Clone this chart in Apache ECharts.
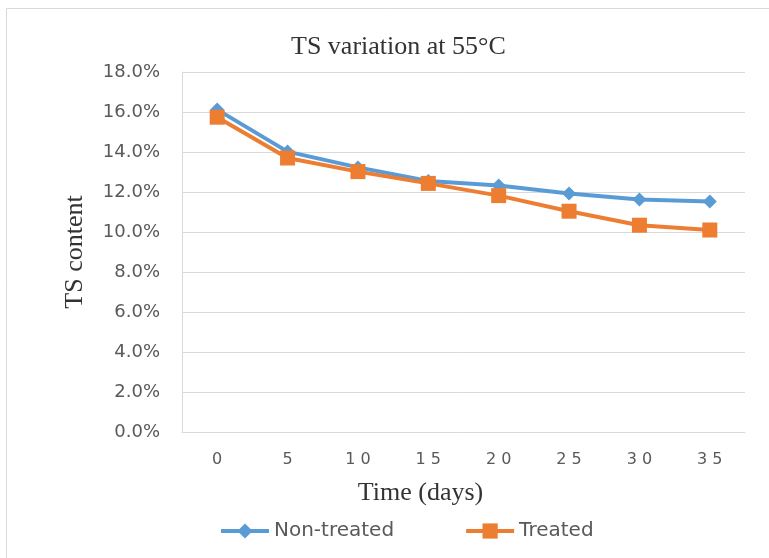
<!DOCTYPE html>
<html>
<head>
<meta charset="utf-8">
<script src="https://cdn.jsdelivr.net/npm/echarts@6/dist/echarts.min.js"></script>
<style>html,body{margin:0;padding:0;background:#fff}#c{width:769px;height:558px}</style>
</head>
<body>
<div id="c"></div>
<script>
var categories = ["0","5","10","15","20","25","30","35"];
var nonTreated = [0.1612, 0.1402, 0.1323, 0.1255, 0.1233, 0.1193, 0.1162, 0.1152];
var treated = [0.1574, 0.1370, 0.1302, 0.1243, 0.1182, 0.1104, 0.1034, 0.1010];
var yTicks = {min: 0, max: 0.18, interval: 0.02};

var chart = echarts.init(document.getElementById('c'));
chart.setOption({
  animation: false,
  backgroundColor: '#fff',
  graphic: [{type:'rect', shape:{x:6.5,y:8.5,width:800,height:600}, style:{fill:'none', stroke:'#d9d9d9', lineWidth:1}, z:-1}],
  title: {text:'TS variation at 55°C', left:286, top:29, textStyle:{fontFamily:'Liberation Serif', fontSize:26, fontWeight:'normal', color:'#333'}},
  grid: {left:182, right:24, top:72, bottom:126},
  legend: {top:516, left:214, itemWidth:48, itemHeight:19, itemGap:70,
    lineStyle:{width:4},
    textStyle:{fontFamily:'DejaVu Sans', fontSize:20, color:'#595959'},
    data:['Non-treated','Treated']},
  xAxis: {type:'category', data:categories, boundaryGap:true,
    name:'Time (days)', nameLocation:'middle', nameGap:48,
    nameTextStyle:{fontFamily:'Liberation Serif', fontSize:26, color:'#333', padding:[0,86,0,0]},
    axisLine:{lineStyle:{color:'#d9d9d9'}}, axisTick:{show:false},
    axisLabel:{margin:20, fontFamily:'DejaVu Sans', fontSize:16, color:'#595959', formatter:function(v){return v.split('').join(' ');}}},
  yAxis: {type:'value', min:yTicks.min, max:yTicks.max, interval:yTicks.interval,
    name:'TS content', nameLocation:'middle', nameGap:94,
    nameTextStyle:{fontFamily:'Liberation Serif', fontSize:26, color:'#333'},
    axisLine:{show:true, lineStyle:{color:'#d9d9d9'}}, axisTick:{show:false},
    splitLine:{lineStyle:{color:'#d9d9d9'}},
    axisLabel:{margin:22, fontFamily:'DejaVu Sans', fontSize:18, color:'#595959', formatter:function(v){return (v*100).toFixed(1)+'%';}}},
  series: [
    {name:'Non-treated', type:'line', data:nonTreated, symbol:'diamond', symbolSize:14, color:'#5b9bd5', lineStyle:{width:4}, itemStyle:{color:'#5b9bd5'}},
    {name:'Treated', type:'line', data:treated, symbol:'rect', symbolSize:15, color:'#ed7d31', lineStyle:{width:4}, itemStyle:{color:'#ed7d31'}}
  ]
});
</script>
</body>
</html>
